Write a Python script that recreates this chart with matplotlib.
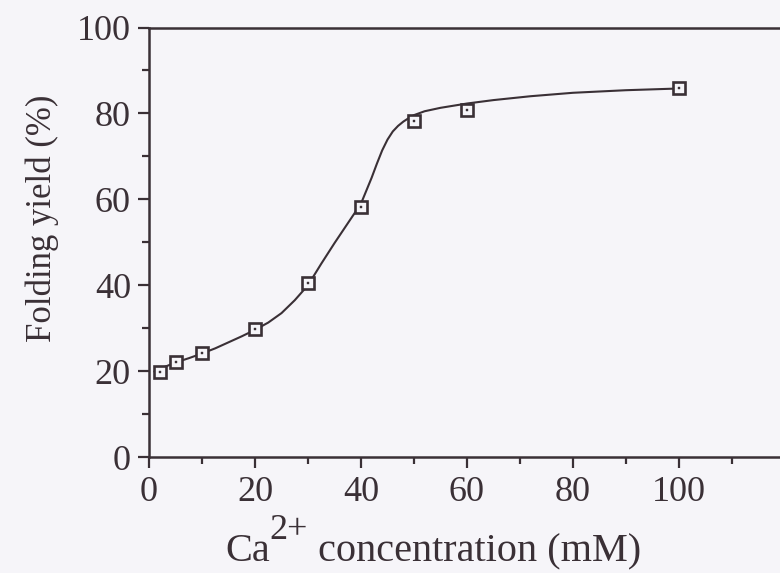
import matplotlib
matplotlib.use("Agg")
import matplotlib.pyplot as plt
from matplotlib.ticker import MultipleLocator

# Measured folding yields
ca_mM = [2, 5, 10, 20, 30, 40, 50, 60, 100]
yield_pct = [19.8, 22.2, 24.1, 29.7, 40.4, 58.3, 78.2, 80.8, 86.0]

# Fitted curve, read point by point
fit_x = [1, 2, 5, 7.5, 10, 12.5, 15, 17.5, 20, 22.5, 25, 27.5, 30, 32.5, 35, 37.5, 40,
         41, 42, 43, 44, 45, 46, 47, 48, 49, 50, 52, 55, 60, 65, 72, 80, 90, 100]
fit_y = [19.9, 20.5, 22.0, 23.0, 24.1, 25.3, 26.7, 28.1, 29.6, 31.3, 33.5, 36.5, 40.0,
         45.0, 49.8, 54.4, 59.0, 62.0, 65.0, 68.3, 71.4, 73.9, 75.8, 77.1, 78.1, 78.9,
         79.6, 80.5, 81.3, 82.3, 83.1, 84.0, 84.8, 85.4, 85.8]

x_ticks = [0, 20, 40, 60, 80, 100]
y_ticks = [0, 20, 40, 60, 80, 100]

INK = "#3a3036"
BG = "#f6f5f9"
FS = 26

plt.rcParams["font.family"] = ["Liberation Serif", "DejaVu Serif"]

fig = plt.figure(figsize=(7.8, 5.73), dpi=100, facecolor=BG)
ax = fig.add_axes([149 / 780, 116 / 573, 631 / 780, 429.5 / 573], facecolor=BG)

ax.plot(fit_x, fit_y, color=INK, lw=1.5, solid_capstyle="round", solid_joinstyle="round", zorder=2)
ax.plot(ca_mM, yield_pct, ls="none", marker="s", ms=9, mfc=BG, mec=INK, mew=1.9, zorder=3)
ax.plot(ca_mM, yield_pct, ls="none", marker="s", ms=1.6, mfc=INK, mec=INK, mew=0.3, zorder=4)

ax.set_xlim(0, 631 / 5.3)
ax.set_ylim(0, 100)
ax.set_xticks(x_ticks)
ax.set_yticks(y_ticks)
ax.xaxis.set_minor_locator(MultipleLocator(10))
ax.yaxis.set_minor_locator(MultipleLocator(10))

ax.spines["right"].set_visible(False)
for s in ["left", "bottom", "top"]:
    ax.spines[s].set_color(INK)
    ax.spines[s].set_linewidth(1.8)

ax.tick_params(which="major", direction="out", length=8, width=1.6, color=INK,
               labelcolor=INK, labelsize=FS)
ax.tick_params(axis="x", which="major", pad=6)
ax.tick_params(axis="y", which="major", pad=5)
ax.tick_params(which="minor", direction="out", length=5, width=1.6, color=INK)

fig.text(42 / 780, 1 - 218 / 573, "Folding yield (%)", rotation=90, ha="center", va="center",
         fontsize=25, color=INK)

# x label with a full-size raised superscript
ca = fig.text(225 / 780, 1 - 561 / 573, "Ca", ha="left", va="baseline", fontsize=29, color=INK)
sup = ax.annotate("2+", xy=(1.0, 0.62), xycoords=ca, ha="left", va="bottom",
                  fontsize=26, color=INK, annotation_clip=False)
ax.annotate(" concentration (mM)", xy=(1.0, 0.0), xycoords=(sup, ca), ha="left", va="bottom",
            fontsize=29, color=INK, annotation_clip=False)

fig.savefig("out.png", dpi=100, facecolor=BG)
